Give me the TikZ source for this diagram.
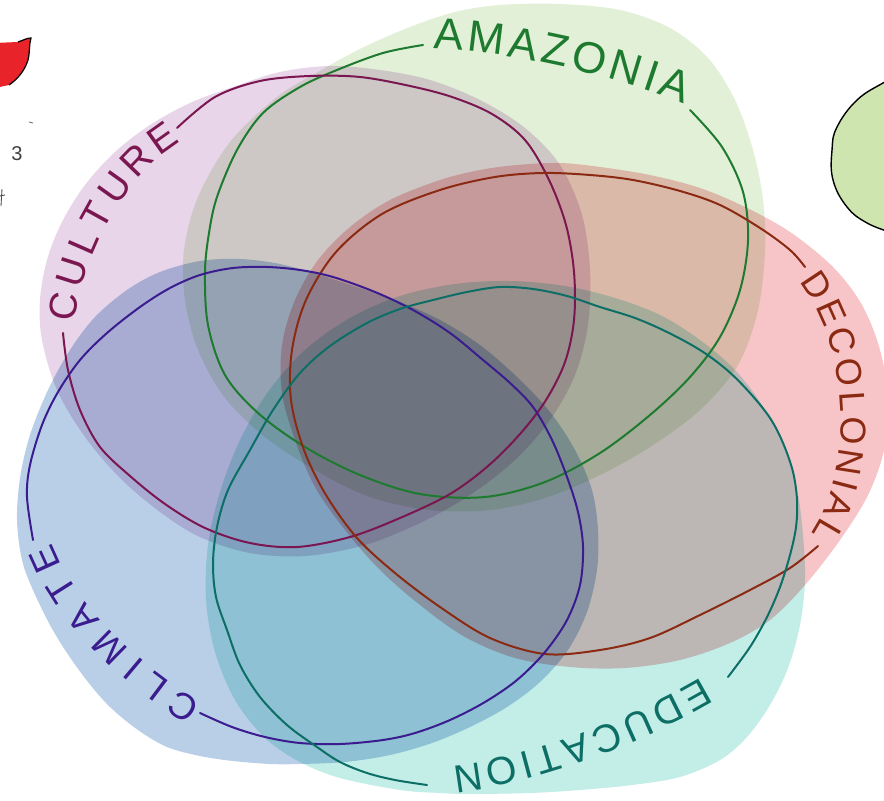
\documentclass[tikz,border=0pt]{standalone}
\usepackage{fontspec}
\setmainfont{Liberation Sans}
\usetikzlibrary{decorations.text}
\definecolor{amzF}{HTML}{E2F0D8}
\definecolor{culF}{HTML}{E8D5E9}
\definecolor{decF}{HTML}{F7C5C8}
\definecolor{cliF}{HTML}{B9CFE8}
\definecolor{eduF}{HTML}{C3EEE8}
\definecolor{amzL}{HTML}{1D7A2E}
\definecolor{culL}{HTML}{7A1650}
\definecolor{decL}{HTML}{8B2A12}
\definecolor{cliL}{HTML}{3B1C8F}
\definecolor{eduL}{HTML}{0D6E66}
\definecolor{blobG}{HTML}{CFE5B0}
\definecolor{blobR}{HTML}{E8232A}
\tikzset{
  penline/.style={line width=0.5pt, line cap=round, line join=round},
  lbl/.style={decorate, decoration={text along path, text align={fit to path}, #1}},
}
\begin{document}
\begin{tikzpicture}[x=0.25pt,y=-0.25pt]
\useasboundingbox (0,0) rectangle (884,800);
\clip (0,0) rectangle (884,800);
\fill[white] (0,0) rectangle (884,800);

% side fragments
\fill[blobG] plot[smooth, tension=0.7] coordinates {(890,80) (883,83) (857,100) (837,127) (832,150) (833,180) (847,207) (867,223) (890,232)} -- cycle;
\draw[black, line width=0.35pt] plot[smooth, tension=0.7] coordinates {(890,80) (883,83) (857,100) (837,127) (832,150) (833,180) (847,207) (867,223) (890,232)};
\fill[blobR] (-5,43) -- (18,42) .. controls (24,40) and (27,38) .. (31,38) .. controls (29,44) and (30,52) .. (28,60) .. controls (25,70) and (18,79) .. (9,85) -- (-5,88) -- cycle;
\draw[black, line width=0.3pt] (18,42) .. controls (24,40) and (27,38) .. (31,38) .. controls (29,44) and (30,52) .. (28,60) .. controls (25,70) and (18,79) .. (9,85);
\node[font=\fontsize{5}{5}\selectfont, text=black!75, inner sep=0pt] (three) at (17,154) {3};
\draw[black!60, line width=0.2pt] (29,122) -- (33,123);
\draw[black!70, line width=0.22pt] (0,196) -- (5,195) (2,189) -- (1,206);

% translucent fills
\begin{scope}[blend mode=multiply]
\fill[amzF] plot[smooth cycle, tension=0.55] coordinates {(500,5) (560,4) (620,10) (670,28) (708,58) (735,100) (753,150) (763,200) (765,250) (758,310) (738,365) (700,410) (650,447) (600,475) (545,498) (490,510) (430,510) (370,497) (315,470) (265,437) (225,398) (198,350) (185,300) (184,250) (198,197) (230,142) (277,97) (318,72) (362,48) (410,27) (455,12)};
\fill[culF] plot[smooth cycle, tension=0.55] coordinates {(233,87) (280,72) (330,66) (380,70) (430,80) (480,100) (525,128) (560,165) (582,215) (590,270) (588,325) (575,375) (550,420) (515,460) (470,495) (420,523) (365,545) (305,556) (250,553) (200,537) (160,512) (120,478) (85,437) (57,390) (42,340) (40,300) (47,260) (62,222) (85,185) (115,152) (150,125) (190,103)};
\fill[decF] plot[smooth cycle, tension=0.55] coordinates {(517,165) (560,163) (600,167) (650,175) (700,188) (745,207) (790,232) (833,267) (862,305) (880,350) (888,400) (884,450) (868,495) (840,540) (805,585) (770,620) (730,643) (680,660) (625,668) (570,667) (515,658) (465,637) (420,605) (380,570) (345,530) (315,487) (295,440) (282,393) (282,345) (295,300) (318,260) (350,227) (390,200) (440,180) (480,170)};
\fill[cliF] plot[smooth cycle, tension=0.55] coordinates {(17,520) (22,560) (33,590) (50,625) (67,653) (88,682) (110,707) (138,730) (167,747) (200,756) (233,761) (270,764) (300,764) (345,762) (390,755) (432,743) (470,727) (507,707) (540,682) (568,650) (587,612) (597,570) (598,530) (592,490) (575,450) (550,412) (517,377) (480,345) (440,320) (400,302) (360,288) (320,275) (280,264) (240,259) (200,261) (160,272) (127,290) (95,317) (70,350) (48,390) (30,435) (20,478)};
\fill[eduF] plot[smooth cycle, tension=0.55] coordinates {(470,794) (530,793) (580,790) (632,785) (680,777) (720,760) (747,737) (770,705) (788,668) (800,625) (805,580) (803,535) (797,490) (783,445) (762,405) (735,370) (700,340) (660,315) (615,298) (565,286) (510,281) (455,284) (400,296) (350,318) (305,350) (268,392) (240,440) (220,492) (208,545) (206,600) (215,652) (235,700) (265,738) (300,762) (340,778) (400,790) (440,793)};
\end{scope}

% outlines
\draw[amzL, penline] plot[smooth, tension=0.55] coordinates {(690,110) (722,147) (743,192) (748,240) (740,290) (720,337) (690,377) (650,415) (600,453) (545,482) (485,497) (420,494) (360,475) (305,447) (258,413) (225,375) (208,325) (205,272) (209,233) (217,197) (237,150) (263,113) (300,87) (337,70) (383,53) (423,45)};
\draw[culL, penline] plot[smooth, tension=0.55] coordinates {(177,128) (215,97) (260,81) (310,76) (360,77) (410,86) (452,97) (492,114) (525,140) (549,180) (566,225) (574,272) (574,320) (565,362) (546,400) (520,434) (488,466) (450,494) (400,518) (350,537) (297,547) (250,543) (205,528) (165,504) (130,476) (100,447) (80,410) (68,370) (63,333)};
\draw[decL, penline] plot[smooth, tension=0.55] coordinates {(818,546) (790,568) (750,590) (700,615) (650,638) (600,650) (545,654) (490,638) (440,607) (395,573) (357,538) (326,495) (304,450) (291,400) (292,350) (306,300) (336,252) (382,214) (440,190) (495,177) (543,173) (590,175) (633,180) (680,191) (720,205) (760,228) (790,250) (805,267)};
\draw[cliL, penline] plot[smooth, tension=0.55] coordinates {(33,540) (27,497) (30,465) (42,425) (58,392) (80,360) (107,333) (140,307) (170,288) (200,275) (233,268) (267,267) (300,270) (333,277) (375,292) (413,310) (450,333) (483,360) (510,383) (533,407) (552,440) (567,477) (578,512) (583,547) (580,585) (567,620) (545,652) (517,680) (485,702) (450,720) (415,733) (383,740) (340,744) (300,743) (265,737) (232,727) (200,713)};
\draw[eduL, penline] plot[smooth, tension=0.55] coordinates {(427,785) (395,780) (367,773) (340,762) (317,747) (287,725) (260,697) (240,665) (227,630) (216,597) (213,563) (217,527) (228,490) (250,450) (273,410) (300,373) (330,346) (367,323) (400,309) (433,300) (467,292) (500,287) (533,289) (567,296) (600,307) (635,318) (667,332) (700,350) (727,370) (750,393) (770,418) (783,443) (793,472) (797,500) (796,527) (790,555) (780,587) (767,617) (750,647) (728,677)};

% labels along the outlines
\path[lbl={text={|\fontsize{11}{11}\selectfont\color{amzL}|AMAZONIA}, raise=0pt}] (433,49) .. controls (520,52) and (620,78) .. (684,104);
\path[lbl={text={|\fontsize{9.7}{9.7}\selectfont\color{culL}|CULTURE}, raise=-3.4pt}] (62,320) .. controls (67,260) and (110,168) .. (173,131);
\path[lbl={text={|\fontsize{9}{9}\selectfont\color{decL}|DECOLONIAL}, raise=-3.25pt}] (810,275) .. controls (862,340) and (870,470) .. (822,540);
\path[lbl={text={|\fontsize{9.3}{9.3}\selectfont\color{cliL}|CLIMATE}, raise=-3.3pt}] (194,714) .. controls (140,680) and (70,625) .. (40,548);
\path[lbl={text={|\fontsize{9.8}{9.8}\selectfont\color{eduL}|EDUCATION}, raise=-3.5pt}] (708,690) .. controls (640,730) and (540,770) .. (454,780);
\end{tikzpicture}
\end{document}
